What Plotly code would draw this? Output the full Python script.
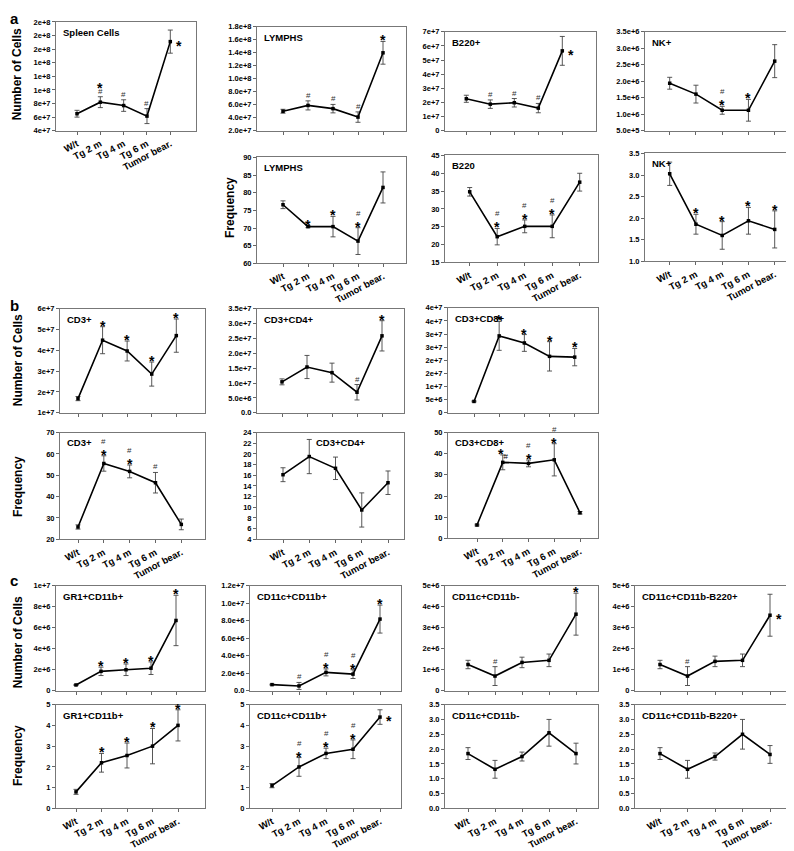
import math
import plotly.graph_objects as go

W, H = 794, 851
groups = ["W/t", "Tg 2 m", "Tg 4 m", "Tg 6 m", "Tumor bear."]

# significance marks: "/" stacks upward from the error bar top, ">" = beside the point
# ---- a: cell numbers
spleen_n = [6.5e7, 8.2e7, 7.7e7, 6.15e7, 1.71e8]
spleen_n_err = [0.5e7, 0.8e7, 0.85e7, 1.1e7, 1.7e7]
spleen_n_sig = ["", "#/*", "#", "#", ">*"]

lymph_n = [5.0e7, 5.9e7, 5.4e7, 4.1e7, 1.4e8]
lymph_n_err = [0.3e7, 0.7e7, 0.65e7, 0.8e7, 1.75e7]
lymph_n_sig = ["", "#", "#", "#", "*"]

b220_n = [2.26e7, 1.88e7, 1.98e7, 1.6e7, 5.65e7]
b220_n_err = [0.25e7, 0.3e7, 0.3e7, 0.33e7, 1.02e7]
b220_n_sig = ["", "#", "#", "#", ">*"]

nk_n = [1.94e6, 1.61e6, 1.12e6, 1.12e6, 2.61e6]
nk_n_err = [0.18e6, 0.27e6, 0.12e6, 0.33e6, 0.5e6]
nk_n_sig = ["", "", "*/#", "*", ""]

# ---- a: frequency
lymph_f = [76.6, 70.4, 70.4, 66.3, 81.5]
lymph_f_err = [1.1, 0.3, 2.9, 3.8, 4.4]
lymph_f_sig = ["", "*", "*", "*/#", ""]

b220_f = [34.8, 22.2, 25.1, 25.1, 37.5]
b220_f_err = [1.2, 2.3, 1.8, 3.2, 2.5]
b220_f_sig = ["", "*/#", "*/#", "*/#", ""]

nk_f = [3.03, 1.86, 1.60, 1.94, 1.74]
nk_f_err = [0.27, 0.23, 0.32, 0.31, 0.43]
nk_f_sig = ["", "*", "*", "*", "*"]

# ---- b: cell numbers
cd3_n = [1.68e7, 4.49e7, 3.97e7, 2.86e7, 4.71e7]
cd3_n_err = [0.1e7, 0.65e7, 0.48e7, 0.58e7, 0.8e7]
cd3_n_sig = ["", "*", "*", "*", "*"]

cd4_n = [1.04e7, 1.54e7, 1.35e7, 0.69e7, 2.59e7]
cd4_n_err = [0.1e7, 0.39e7, 0.32e7, 0.26e7, 0.51e7]
cd4_n_sig = ["", "", "", "#", "*"]

cd8_n = [4.3e6, 2.93e7, 2.66e7, 2.15e7, 2.12e7]
cd8_n_err = [0.2e6, 0.55e7, 0.32e7, 0.56e7, 0.33e7]
cd8_n_sig = ["", "*", "*", "*", "*"]

# ---- b: frequency
cd3_f = [25.8, 55.5, 51.8, 46.5, 27.0]
cd3_f_err = [1.0, 3.6, 3.0, 4.8, 2.5]
cd3_f_sig = ["", "*/#", "*/#", "#", ""]

cd4_f = [16.1, 19.5, 17.3, 9.5, 14.6]
cd4_f_err = [1.3, 3.2, 2.1, 3.2, 2.2]
cd4_f_sig = ["", "", "", "", ""]

cd8_f = [6.3, 35.9, 35.4, 37.1, 12.1]
cd8_f_err = [0.4, 3.5, 1.6, 7.6, 0.6]
cd8_f_sig = ["", "*#", "*/#", "*/#", ""]

# ---- c: cell numbers
gr1_n = [0.55e6, 1.85e6, 2.0e6, 2.15e6, 6.7e6]
gr1_n_err = [0.05e6, 0.4e6, 0.55e6, 0.6e6, 2.4e6]
gr1_n_sig = ["", "*", "*", "*", "*"]

cd11bp_n = [0.7e6, 0.55e6, 2.1e6, 1.9e6, 8.2e6]
cd11bp_n_err = [0.05e6, 0.4e6, 0.4e6, 0.5e6, 1.6e6]
cd11bp_n_sig = ["", "#", "*/#", "*/#", "*"]

cd11bm_n = [1.25e6, 0.7e6, 1.35e6, 1.45e6, 3.65e6]
cd11bm_n_err = [0.2e6, 0.45e6, 0.25e6, 0.3e6, 1.0e6]
cd11bm_n_sig = ["", "#", "", "", "*"]

b220p_n = [1.25e6, 0.7e6, 1.4e6, 1.45e6, 3.6e6]
b220p_n_err = [0.2e6, 0.45e6, 0.25e6, 0.3e6, 1.0e6]
b220p_n_sig = ["", "#", "", "", ">*"]

# ---- c: frequency
gr1_f = [0.8, 2.2, 2.55, 3.0, 4.0]
gr1_f_err = [0.12, 0.45, 0.6, 0.85, 0.75]
gr1_f_sig = ["", "*", "*", "*", "*"]

cd11bp_f = [1.1, 2.0, 2.65, 2.85, 4.4]
cd11bp_f_err = [0.1, 0.45, 0.25, 0.45, 0.35]
cd11bp_f_sig = ["", "*/#", "*/#", "*/#", ">*"]

cd11bm_f = [1.85, 1.32, 1.75, 2.55, 1.85]
cd11bm_f_err = [0.2, 0.3, 0.15, 0.45, 0.35]

b220p_f = [1.85, 1.32, 1.75, 2.5, 1.82]
b220p_f_err = [0.2, 0.3, 0.12, 0.5, 0.3]

nosig = ["", "", "", "", ""]

# panel layout: box in pixels (x0, y0, x1, y1), x pixel of first / last group,
# y ticks (lo, hi, step, style, decimals)
panels = [
    ("Spleen Cells", spleen_n, spleen_n_err, spleen_n_sig, (48, 10, 188, 120), (69, 162.3), (4e7, 2e8, 2e7, "sci", 0), True),
    ("LYMPHS", lymph_n, lymph_n_err, lymph_n_sig, (249, 15, 398, 120), (275, 375), (2e7, 1.8e8, 2e7, "sci", 1), False),
    ("B220+", b220_n, b220_n_err, b220_n_sig, (437, 20, 588, 120), (458.3, 554.3), (0, 7e7, 1e7, "sci", 0), False),
    ("NK+", nk_n, nk_n_err, nk_n_sig, (637, 20, 790, 120), (661.7, 766.7), (5e5, 3.5e6, 5e5, "sci", 1), False),
    ("LYMPHS", lymph_f, lymph_f_err, lymph_f_sig, (249, 147, 398, 254), (275, 375), (60, 90, 5, "num", 0), True),
    ("B220", b220_f, b220_f_err, b220_f_sig, (437, 145, 590, 253), (461.7, 571.7), (15, 45, 5, "num", 0), True),
    ("NK+", nk_f, nk_f_err, nk_f_sig, (637, 143, 790, 252), (661.7, 766.7), (1.0, 3.5, 0.5, "num", 1), True),
    ("CD3+", cd3_n, cd3_n_err, cd3_n_sig, (52, 300, 197, 405), (70, 168.3), (1e7, 6e7, 1e7, "sci", 0), False),
    ("CD3+CD4+", cd4_n, cd4_n_err, cd4_n_sig, (249, 300, 396, 405), (274, 374), (0, 3.5e7, 5e6, "sci", 1), False),
    ("CD3+CD8+", cd8_n, cd8_n_err, cd8_n_sig, (440, 299, 590, 405), (466, 566.7), (0, 4e7, 5e6, "sci", 0), False),
    ("CD3+", cd3_f, cd3_f_err, cd3_f_sig, (52, 425, 197, 533), (70, 173.3), (20, 70, 10, "num", 0), True),
    ("CD3+CD4+", cd4_f, cd4_f_err, cd4_f_sig, (249, 425, 396, 533), (275, 380), (4, 24, 2, "num", 0), True),
    ("CD3+CD8+", cd8_f, cd8_f_err, cd8_f_sig, (440, 425, 590, 532), (469, 572), (0, 50, 10, "num", 0), True),
    ("GR1+CD11b+", gr1_n, gr1_n_err, gr1_n_sig, (48, 580, 197, 686), (68, 168), (0, 1e7, 2e6, "sci", 0), False),
    ("CD11c+CD11b+", cd11bp_n, cd11bp_n_err, cd11bp_n_sig, (242, 580, 393, 686), (264, 372), (0, 1.2e7, 2e6, "sci", 1), False),
    ("CD11c+CD11b-", cd11bm_n, cd11bm_n_err, cd11bm_n_sig, (437, 580, 590, 686), (460, 568), (0, 5e6, 1e6, "sci", 0), False),
    ("CD11c+CD11b-B220+", b220p_n, b220p_n_err, b220p_n_sig, (627, 580, 790, 686), (652, 762), (0, 5e6, 1e6, "sci", 0), False),
    ("GR1+CD11b+", gr1_f, gr1_f_err, gr1_f_sig, (48, 700, 197, 805), (68, 170), (0, 5, 1, "num", 0), True),
    ("CD11c+CD11b+", cd11bp_f, cd11bp_f_err, cd11bp_f_sig, (242, 700, 393, 805), (264, 372), (0, 5, 1, "num", 0), True),
    ("CD11c+CD11b-", cd11bm_f, cd11bm_f_err, nosig, (437, 700, 590, 805), (460, 568), (0, 3.5, 0.5, "num", 1), True),
    ("CD11c+CD11b-B220+", b220p_f, b220p_f_err, nosig, (627, 700, 790, 805), (652, 762), (0, 3.5, 0.5, "num", 1), True),
]

FONT = "Liberation Sans, Arial, sans-serif"


def sci(v, d):
    if v == 0:
        return "0" if d == 0 else "0." + "0" * d
    e = math.floor(math.log10(abs(v)) + 1e-9)
    m = v / 10 ** e
    m = math.floor(m * 10 ** d + 0.5 + 1e-9) / 10 ** d
    if m >= 10:
        m, e = m / 10, e + 1
    return f"{m:.{d}f}e+{e}"


fig = go.Figure()
annos = []

for k, (title, vals, errs, sig, box, pts, yt, xlab) in enumerate(panels):
    n = k + 1
    x0, y0, x1, y1 = box
    p0, p4 = pts
    s = (p4 - p0) / 4
    xr = [-(p0 - x0) / s, 4 + (x1 - p4) / s]
    lo, hi, step, style, d = yt
    nt = round((hi - lo) / step)
    tv = [lo + i * step for i in range(nt + 1)]
    tt = [sci(v, d) if style == "sci" else f"{v:.{d}f}" for v in tv]

    xa = "x" if n == 1 else f"x{n}"
    ya = "y" if n == 1 else f"y{n}"
    fig.add_trace(go.Scatter(
        x=list(range(5)), y=vals, xaxis=xa, yaxis=ya, mode="lines+markers",
        line=dict(color="black", width=1.6),
        marker=dict(color="black", size=3.5, symbol="square"),
        error_y=dict(type="data", array=errs, color="#444", thickness=0.9, width=2.5),
        showlegend=False, cliponaxis=False,
    ))
    fig.layout[f"xaxis{n}"] = dict(
        domain=[x0 / W, x1 / W], anchor=ya, range=xr, tickvals=list(range(5)),
        ticktext=groups, showticklabels=xlab, tickangle=-28,
        tickfont=dict(family=FONT, size=9.5, color="black", weight="bold"),
        ticks="outside", ticklen=3, tickcolor="#666", showgrid=False, zeroline=False,
        showline=True, linecolor="#777", linewidth=1, mirror=True,
    )
    fig.layout[f"yaxis{n}"] = dict(
        domain=[1 - y1 / H, 1 - y0 / H], anchor=xa, range=[lo, hi],
        tickvals=tv, ticktext=tt,
        tickfont=dict(family=FONT, size=7.5, color="black", weight="bold"),
        ticks="outside", ticklen=3, tickcolor="#666", showgrid=False, zeroline=False,
        showline=True, linecolor="#777", linewidth=1, mirror=True,
    )

    # panel title inside the box
    tx = x0 + (57 if (title == "CD3+CD4+" and xlab) else 5)
    annos.append(dict(
        text=title, x=tx / W, y=1 - (y0 + 3) / H, xref="paper", yref="paper",
        xanchor="left", yanchor="top", showarrow=False,
        font=dict(family=FONT, size=9.5, color="black", weight="bold"),
    ))

    # significance marks
    for i, code in enumerate(sig):
        if not code:
            continue
        if code.startswith(">"):
            annos.append(dict(
                text=code[1:], x=i, y=vals[i], xref=xa, yref=ya, showarrow=False,
                xanchor="left", yanchor="middle", xshift=4, yshift=-4,
                font=dict(family=FONT, size=14, color="black", weight="bold"),
            ))
            continue
        cur = 1.5
        for tok in code.split("/"):
            if tok == "*":
                h = 9
                txt = "*"
                f = dict(family=FONT, size=14, color="black", weight="bold")
                off = -5
            elif tok == "#":
                h = 8
                txt = "#"
                f = dict(family=FONT, size=8, color="#333")
                off = 0
            else:
                h = 9
                txt = "*<span style='font-size:8px;font-weight:normal'>#</span>"
                f = dict(family=FONT, size=14, color="black", weight="bold")
                off = -5
            annos.append(dict(
                text=txt, x=i, y=vals[i] + errs[i], xref=xa, yref=ya, showarrow=False,
                xanchor="center", yanchor="middle", yshift=cur + h / 2 + off,
                font=f, borderpad=0,
            ))
            cur += h

# axis titles and section letters
side = [("Number of Cells", 9, 63), ("Frequency", 222, 198), ("Number of Cells", 10, 352),
        ("Frequency", 10, 480), ("Number of Cells", 10, 637), ("Frequency", 10, 752)]
for txt, px, py in side:
    annos.append(dict(
        text=txt, x=px / W, y=1 - py / H, xref="paper", yref="paper", textangle=-90,
        showarrow=False, xanchor="center", yanchor="middle",
        font=dict(family=FONT, size=12, color="black", weight="bold"),
    ))
for txt, py in [("a", 7), ("b", 297), ("c", 575)]:
    annos.append(dict(
        text=txt, x=6 / W, y=1 - py / H, xref="paper", yref="paper",
        showarrow=False, xanchor="center", yanchor="middle",
        font=dict(family=FONT, size=15, color="black", weight="bold"),
    ))

fig.update_layout(
    width=W, height=H, margin=dict(l=0, r=0, t=0, b=0),
    paper_bgcolor="white", plot_bgcolor="white",
    annotations=annos, showlegend=False,
)

fig.write_html("out.html")
